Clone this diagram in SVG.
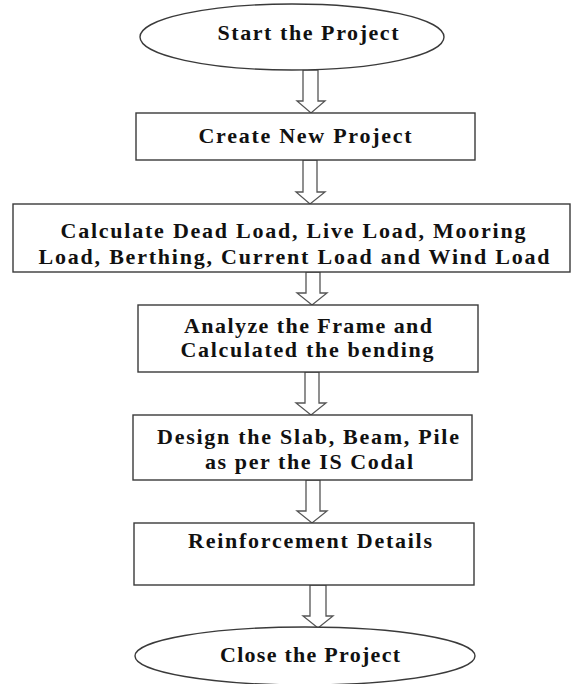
<svg xmlns="http://www.w3.org/2000/svg" width="572" height="684" viewBox="0 0 572 684">
<style>
.bg{fill:#ffffff}
.shape{fill:#ffffff;stroke:#3a3a3a;stroke-width:1.4}
.arrow{fill:#ffffff;stroke:#555555;stroke-width:1.3;stroke-linejoin:miter}
.t{font-family:"Liberation Serif","Times New Roman",serif;font-weight:bold;font-size:22px;fill:#111111;text-anchor:middle}
</style>
<rect class="bg" x="0" y="0" width="572" height="684"/>
<g id="connectors">
<polygon class="arrow" points="303,70 318,70 318,101 325,101 311,113 297,101 303,101"/>
<polygon class="arrow" points="303,160 317,160 317,192 325,192 310,204 296,192 303,192"/>
<polygon class="arrow" points="306,272 320,272 320,293 327,293 312,305 297,293 306,293"/>
<polygon class="arrow" points="305,372 319,372 319,403 326,403 311,415 296,403 305,403"/>
<polygon class="arrow" points="306,480 320,480 320,511 327,511 312,523 297,511 306,511"/>
<polygon class="arrow" points="310,585 326,585 326,616 333,616 318,628 303,616 310,616"/>
</g>
<g id="start">
<ellipse class="shape" cx="292" cy="37" rx="152" ry="33"/>
<text class="t" x="308" y="40" textLength="181">Start the Project</text>
</g>
<g id="create">
<rect class="shape" x="136" y="113" width="339" height="47"/>
<text class="t" x="305" y="143" textLength="213">Create New Project</text>
</g>
<g id="calculate">
<rect class="shape" x="13" y="204" width="557" height="68"/>
<text class="t" x="293" y="238" textLength="465">Calculate Dead Load, Live Load, Mooring</text>
<text class="t" x="294" y="264" textLength="511">Load, Berthing, Current Load and Wind Load</text>
</g>
<g id="analyze">
<rect class="shape" x="138" y="305" width="340" height="67"/>
<text class="t" x="308" y="333" textLength="248">Analyze the Frame and</text>
<text class="t" x="307" y="357" textLength="253">Calculated the bending</text>
</g>
<g id="design">
<rect class="shape" x="133" y="415" width="339" height="65"/>
<text class="t" x="308" y="444" textLength="302">Design the Slab, Beam, Pile</text>
<text class="t" x="309" y="469" textLength="208">as per the IS Codal</text>
</g>
<g id="reinforcement">
<rect class="shape" x="134" y="523" width="340" height="62"/>
<text class="t" x="310" y="548" textLength="244">Reinforcement Details</text>
</g>
<g id="close">
<ellipse class="shape" cx="305" cy="656" rx="170" ry="29"/>
<text class="t" x="310" y="662" textLength="180">Close the Project</text>
</g>
</svg>
